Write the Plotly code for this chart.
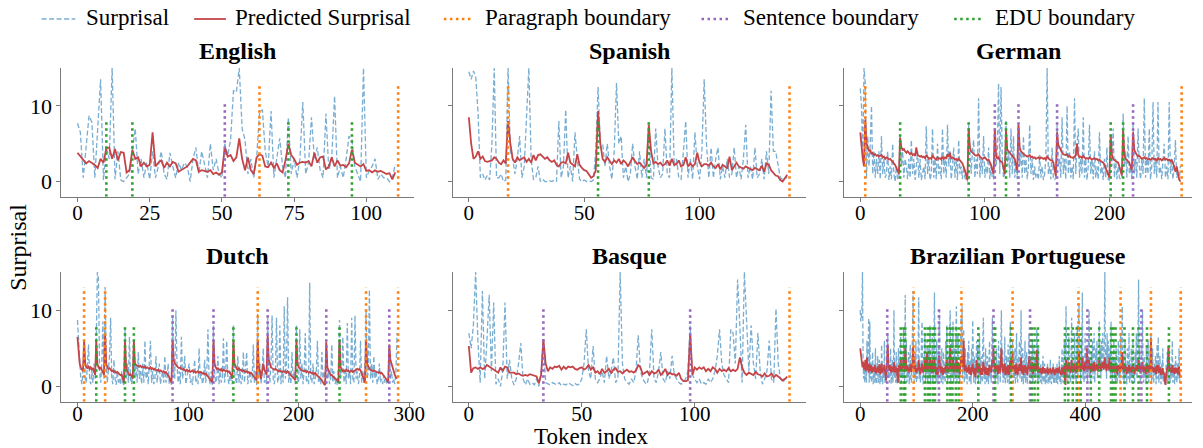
import plotly.graph_objects as go

# ---------------- data ----------------
languages = ["English", "Spanish", "German", "Dutch", "Basque", "Brazilian Portuguese"]
legend_labels = ["Surprisal", "Predicted Surprisal", "Paragraph boundary",
                 "Sentence boundary", "EDU boundary"]

en_surprisal = [
    7.7, 6.5, 0.5, 5.0, 8.7, 7.8, 0.5, 7.0, 13.5, 0.2,
    4.5, 3.0, 15.0, 0.3, 4.0, 0.2, 0.0, 0.5, 1.0, 4.0,
    7.0, 1.0, 3.0, 0.5, 2.5, 0.3, 4.0, 0.5, 2.0, 4.0,
    1.0, 0.3, 3.8, 2.0, 0.5, 2.5, 1.5, 2.5, 2.0, 0.0,
    3.0, 4.5, 1.0, 4.0, 2.0, 0.5, 5.0, 1.5, 3.0, 1.0,
    0.5, 5.0, 3.5, 5.5, 12.0, 11.8, 15.0, 7.0, 5.5, 1.0,
    3.0, 0.5, 3.0, 9.0, 9.5, 4.0, 2.0, 9.3, 0.5, 3.0,
    5.7, 2.0, 0.5, 8.5, 1.0, 3.0, 0.5, 3.0, 10.5, 1.0,
    2.5, 8.5, 3.0, 4.5, 1.5, 0.5, 9.0, 1.5, 3.0, 11.3,
    0.5, 2.0, 0.5, 3.0, 6.0, 5.5, 2.0, 1.0, 0.0, 15.0,
    0.5, 1.5, 2.0, 3.0, 0.3, 1.0, 0.5, 0.5, 0.0, 0.5,
    2.3]
en_predicted = [
    3.8, 3.3, 2.8, 2.4, 2.7, 2.5, 2.2, 1.8, 3.0, 2.5,
    4.4, 4.5, 3.0, 4.3, 2.8, 3.9, 3.8, 1.2, 1.5, 4.2,
    3.0, 3.2, 2.0, 2.5, 2.0, 2.2, 6.5, 2.0, 2.5, 2.8,
    1.8, 2.5, 2.0, 2.6, 2.4, 1.3, 1.5, 1.8, 2.0, 2.5,
    3.0, 2.8, 1.3, 1.5, 1.4, 1.3, 1.5, 1.0, 1.2, 0.9,
    1.2, 4.5, 3.3, 3.5, 2.7, 3.2, 5.7, 3.0, 1.5, 3.2,
    1.5, 1.0, 3.2, 3.6, 3.4, 2.0, 1.9, 2.5, 1.8, 2.4,
    1.5, 1.2, 2.8, 5.0, 3.5, 3.0, 2.2, 2.5, 2.6, 2.5,
    2.7, 2.0, 3.8, 2.5, 3.2, 3.3, 1.6, 2.0, 3.2, 2.0,
    2.8, 2.1, 2.2, 1.9, 2.4, 4.2, 2.5, 2.2, 2.0, 2.3,
    1.4, 1.5, 1.2, 1.5, 1.3, 1.4, 1.2, 1.0, 1.1, 0.3,
    1.2]
en_paragraph = [63, 111]
en_sentence = [51]
en_edu = [10, 19, 73, 95]

es_surprisal = [
    14.5, 13.5, 14.6, 13.8, 9.0, 0.5, 1.0, 0.2, 0.8, 0.2,
    5.0, 15.0, 0.5, 0.5, 1.0, 0.0, 0.2, 15.0, 4.0, 3.0,
    1.0, 3.0, 6.0, 0.5, 2.0, 9.0, 15.0, 3.0, 0.3, 0.5,
    2.0, 0.0, 0.3, 0.0, 0.0, 0.1, 0.0, 0.2, 0.0, 8.0,
    0.5, 2.0, 9.5, 0.5, 2.0, 0.0, 6.5, 3.0, 0.3, 0.0,
    0.2, 0.0, 0.1, 0.0, 0.2, 4.0, 12.5, 5.0, 5.0, 2.0,
    5.0, 2.0, 0.3, 4.0, 13.0, 5.0, 6.0, 0.5, 2.0, 0.0,
    1.0, 5.0, 2.0, 0.3, 4.0, 0.5, 3.0, 0.5, 7.0, 0.5,
    0.3, 7.0, 2.0, 0.5, 1.0, 7.0, 1.0, 0.5, 15.0, 2.0,
    3.0, 0.5, 0.3, 4.0, 8.0, 0.5, 3.0, 0.3, 6.5, 2.0,
    0.3, 4.0, 13.5, 5.0, 0.5, 4.5, 0.5, 3.0, 4.5, 0.3,
    2.0, 0.5, 3.0, 0.5, 1.0, 4.5, 0.5, 2.0, 0.3, 3.0,
    7.5, 0.5, 2.0, 0.3, 4.5, 0.5, 1.0, 3.0, 0.3, 4.0,
    1.0, 12.0, 4.0, 4.0, 2.0, 0.5, 0.3, 0.5, 0.5]
es_predicted = [
    8.5, 5.0, 3.0, 3.3, 4.0, 3.0, 3.3, 2.7, 2.6, 2.7,
    2.8, 3.2, 3.0, 2.5, 2.3, 2.8, 2.4, 8.0, 5.0, 3.0,
    2.5, 3.2, 2.8, 3.0, 3.2, 2.6, 3.0, 2.5, 3.5, 2.8,
    3.5, 3.6, 3.3, 3.0, 3.2, 2.8, 2.6, 2.8, 2.2, 2.0,
    2.5, 2.6, 2.4, 3.8, 2.5, 2.3, 2.0, 3.6, 2.2, 1.8,
    1.5, 1.4, 1.0, 0.5, 0.7, 1.5, 9.3, 5.0, 3.0, 2.6,
    3.2, 2.8, 2.3, 2.8, 2.5, 3.0, 2.3, 2.8, 2.5, 2.0,
    2.7, 3.2, 2.7, 2.3, 2.5, 2.2, 1.8, 2.2, 7.5, 4.0,
    2.4, 2.6, 2.3, 2.5, 2.1, 2.3, 2.8, 2.1, 3.0, 2.2,
    2.3, 2.8, 2.0, 2.2, 3.2, 2.0, 2.4, 2.0, 2.3, 3.8,
    2.5, 2.0, 2.3, 2.3, 2.1, 2.5, 2.0, 1.8, 2.3, 1.6,
    2.2, 2.0, 1.7, 3.3, 1.5, 2.0, 2.5, 2.0, 1.8, 1.7,
    2.0, 1.8, 1.6, 1.5, 1.8, 1.7, 1.5, 2.1, 1.3, 2.4,
    2.2, 1.5, 1.2, 0.8, 0.7, 0.2, 0.0, 0.5, 0.9]
es_paragraph = [17, 139]
es_sentence = []
es_edu = [56, 78]

de_surprisal = [
    12.3, 10.0, 3.0, 15.0, 13.0, 0.5, 6.0, 2.0, 5.0, 10.0,
    1.0, 4.0, 0.5, 3.0, 1.0, 4.0, 0.3, 6.0, 1.0, 3.0,
    0.5, 1.0, 4.0, 0.2, 2.0, 0.3, 5.0, 1.0, 0.0, 2.0,
    0.2, 0.5, 6.0, 2.0, 4.0, 0.5, 3.0, 2.0, 0.3, 3.0,
    0.5, 5.5, 1.0, 3.0, 0.2, 2.0, 4.0, 0.5, 3.0, 0.2,
    1.0, 2.0, 0.3, 7.3, 1.0, 3.0, 0.2, 1.0, 7.0, 0.5,
    3.0, 0.3, 5.0, 1.0, 2.0, 0.3, 7.0, 1.0, 3.0, 0.5,
    7.5, 2.0, 4.0, 0.3, 2.0, 4.5, 0.5, 3.0, 0.2, 5.5,
    1.0, 2.0, 0.3, 2.0, 0.5, 0.2, 0.0, 7.5, 3.0, 1.0,
    4.0, 5.5, 0.5, 3.0, 1.0, 11.0, 0.5, 3.0, 1.0, 6.0,
    0.5, 2.0, 1.0, 4.5, 0.3, 2.0, 0.5, 0.3, 7.0, 2.0,
    4.0, 13.0, 1.0, 12.5, 3.0, 0.5, 1.0, 8.0, 2.0, 4.0,
    0.5, 7.0, 1.0, 6.0, 0.5, 2.0, 0.3, 7.7, 2.0, 4.0,
    0.5, 6.0, 1.0, 3.0, 0.3, 2.0, 7.5, 1.0, 3.0, 0.2,
    2.0, 0.5, 1.0, 0.3, 3.5, 0.5, 2.0, 0.2, 1.0, 3.0,
    15.0, 1.0, 2.0, 0.3, 4.5, 0.5, 0.2, 0.5, 7.5, 2.0,
    3.0, 0.5, 8.5, 1.0, 3.0, 0.3, 10.0, 1.0, 4.0, 0.5,
    2.0, 0.3, 11.0, 1.0, 5.0, 7.0, 0.5, 3.0, 1.0, 8.5,
    0.5, 3.0, 0.2, 2.0, 7.5, 1.0, 3.0, 0.3, 4.0, 0.5,
    2.0, 0.3, 6.5, 1.0, 2.0, 0.2, 3.0, 0.5, 4.5, 0.3,
    0.2, 6.0, 2.0, 7.0, 0.5, 3.0, 0.3, 2.0, 0.5, 0.3,
    0.5, 9.0, 2.0, 4.0, 0.5, 6.0, 1.0, 2.0, 0.3, 7.8,
    1.0, 3.0, 0.5, 7.0, 2.0, 0.3, 3.0, 1.0, 11.0, 0.5,
    3.0, 1.0, 7.0, 0.3, 2.0, 10.5, 1.0, 3.0, 0.5, 10.5,
    1.0, 2.0, 0.3, 3.0, 5.0, 0.5, 2.0, 0.3, 10.5, 1.0,
    3.0, 0.3, 2.0, 5.5, 0.5, 1.0, 0.2, 2.0]
de_predicted = [
    6.5, 4.5, 3.0, 2.0, 8.2, 5.0, 4.5, 4.0, 4.2, 3.6,
    3.8, 3.5, 3.6, 3.4, 3.5, 3.3, 3.4, 3.5, 3.2, 3.3,
    3.0, 3.2, 3.1, 2.9, 3.0, 2.8, 2.7, 2.5, 2.2, 1.8,
    1.4, 1.0, 5.8, 4.5, 4.2, 4.3, 4.0, 3.8, 4.0, 3.7,
    3.6, 3.8, 3.5, 3.6, 3.4, 4.5, 3.5, 3.4, 3.3, 3.4,
    3.2, 3.3, 3.1, 3.5, 3.2, 3.0, 3.1, 3.0, 3.4, 3.1,
    3.0, 2.9, 3.2, 3.0, 3.1, 2.9, 3.3, 3.0, 3.2, 3.1,
    3.5, 3.3, 3.8, 3.0, 3.2, 3.1, 2.9, 3.0, 2.8, 3.0,
    2.7, 2.6, 2.4, 2.0, 1.5, 0.8, 0.2, 7.0, 4.5, 4.0,
    3.8, 3.6, 3.5, 3.4, 3.5, 3.6, 3.3, 3.2, 3.0, 3.1,
    3.2, 3.0, 2.8, 2.9, 2.6, 2.2, 1.5, 1.0, 7.0, 3.5,
    3.0, 3.2, 2.8, 2.6, 2.5, 1.8, 1.0, 6.8, 4.2, 4.0,
    3.8, 3.6, 3.5, 3.3, 3.0, 2.2, 1.5, 7.5, 4.5, 4.0,
    3.8, 3.6, 3.5, 3.4, 3.3, 3.4, 3.5, 3.2, 3.3, 3.1,
    3.2, 3.0, 3.1, 3.2, 3.0, 3.2, 3.1, 3.0, 3.1, 2.9,
    3.3, 3.0, 2.9, 2.8, 2.8, 2.5, 1.5, 0.7, 6.5, 4.8,
    4.5, 4.0, 3.8, 3.6, 3.5, 3.5, 3.6, 3.3, 3.4, 3.2,
    3.2, 3.1, 3.3, 3.5, 5.0, 3.5, 3.2, 3.3, 3.1, 3.4,
    3.2, 3.0, 3.1, 3.0, 3.2, 3.0, 2.9, 3.0, 3.1, 2.9,
    3.0, 2.8, 2.9, 2.7, 2.6, 2.5, 2.2, 1.8, 1.2, 0.8,
    0.5, 6.2, 3.5, 3.0, 2.8, 2.7, 2.6, 2.5, 2.0, 1.5,
    0.8, 6.7, 3.5, 3.0, 2.8, 2.6, 2.5, 2.0, 1.5, 6.5,
    4.2, 3.8, 3.5, 3.3, 3.4, 3.2, 3.0, 3.1, 3.2, 3.0,
    3.1, 2.9, 3.0, 2.9, 3.0, 3.1, 2.9, 3.0, 2.8, 3.1,
    2.9, 3.0, 2.8, 3.0, 3.1, 2.9, 3.0, 2.8, 2.9, 2.7,
    2.8, 2.5, 2.0, 1.3, 2.0, 1.0, 0.3, 0.0]
de_paragraph = [4, 258]
de_sentence = [108, 127, 158, 219]
de_edu = [32, 87, 117, 201, 211]

nl_surprisal = [
    8.7, 6.0, 3.0, 1.0, 0.3, 2.0, 5.0, 1.0, 0.5, 3.0,
    5.5, 1.0, 0.3, 2.0, 0.5, 3.0, 1.0, 6.0, 15.0, 14.0,
    2.0, 0.5, 3.0, 8.5, 1.0, 13.0, 3.0, 0.5, 2.0, 4.0,
    9.0, 1.0, 0.3, 3.5, 1.0, 0.2, 2.0, 0.5, 1.0, 0.2,
    2.0, 0.5, 0.2, 7.7, 1.0, 3.0, 0.5, 6.5, 1.0, 0.3,
    2.0, 6.0, 1.0, 3.0, 0.5, 4.5, 1.0, 2.0, 0.3, 3.0,
    0.5, 6.0, 1.0, 2.0, 0.3, 3.0, 6.0, 0.5, 2.0, 0.3,
    1.0, 4.0, 0.5, 2.0, 3.0, 0.3, 1.0, 2.0, 0.5, 4.0,
    0.5, 1.0, 3.0, 0.3, 1.0, 0.2, 9.3, 2.0, 1.0, 10.0,
    3.0, 0.5, 2.0, 0.3, 6.5, 1.0, 2.0, 4.0, 0.3, 1.0,
    2.0, 3.0, 0.5, 1.0, 0.2, 2.0, 3.5, 0.5, 1.0, 0.3,
    5.0, 1.0, 2.0, 0.3, 1.0, 3.5, 0.5, 2.0, 7.5, 1.0,
    0.3, 2.0, 0.2, 8.0, 2.0, 0.5, 1.0, 4.0, 0.3, 2.0,
    0.5, 1.0, 6.3, 0.5, 2.0, 6.0, 1.0, 0.3, 2.0, 0.5,
    0.3, 8.0, 2.0, 1.0, 0.3, 4.0, 0.5, 2.0, 0.3, 1.0,
    4.5, 0.5, 2.0, 4.5, 0.3, 1.0, 2.0, 0.5, 1.0, 5.5,
    0.5, 2.0, 0.2, 9.5, 1.0, 3.0, 0.3, 2.0, 5.0, 0.5,
    1.0, 0.3, 9.0, 2.0, 0.5, 3.0, 9.3, 1.0, 0.3, 2.0,
    9.0, 0.5, 1.0, 8.0, 0.3, 2.0, 0.5, 10.5, 1.0, 3.0,
    11.7, 0.5, 2.0, 0.3, 4.5, 1.0, 2.0, 0.3, 8.0, 1.0,
    0.5, 7.5, 1.0, 3.0, 0.3, 2.0, 7.0, 0.5, 1.0, 0.3,
    13.6, 1.0, 0.5, 3.0, 0.3, 1.0, 2.0, 6.0, 0.5, 1.0,
    0.3, 4.5, 1.0, 2.0, 0.2, 6.0, 1.0, 2.0, 0.3, 1.0,
    5.5, 0.5, 2.0, 0.3, 1.0, 0.2, 3.0, 8.7, 1.0, 2.0,
    6.5, 0.5, 2.0, 0.3, 8.3, 1.0, 2.0, 0.3, 9.0, 1.0,
    0.5, 9.3, 1.0, 2.0, 0.3, 1.0, 6.0, 0.5, 2.0, 0.3,
    3.0, 10.0, 1.0, 2.0, 12.7, 1.0, 3.0, 0.5, 4.0, 1.0,
    2.0, 0.3, 1.0, 3.0, 0.5, 1.0, 0.3, 1.5, 0.5, 1.0,
    0.3, 0.5, 5.5, 1.0, 2.0, 0.5, 1.0, 0.3, 2.0, 7.0]
nl_predicted = [
    6.5, 4.0, 3.0, 2.5, 2.2, 2.0, 6.0, 3.0, 2.5, 2.4,
    2.6, 2.3, 2.5, 2.2, 2.4, 2.0, 1.5, 6.0, 3.0, 2.5,
    2.3, 2.5, 2.2, 2.0, 1.5, 6.8, 3.0, 2.5, 2.3, 2.4,
    2.2, 2.0, 2.1, 1.9, 2.0, 1.8, 1.9, 1.7, 1.6, 1.5,
    1.5, 1.0, 0.5, 6.0, 2.5, 2.0, 1.8, 1.5, 1.6, 1.2,
    1.0, 6.0, 3.0, 2.8, 2.7, 2.7, 2.6, 2.7, 2.5, 2.6,
    2.5, 2.6, 2.4, 2.5, 2.4, 2.3, 2.5, 2.3, 2.4, 2.2,
    2.3, 2.2, 2.1, 2.2, 2.0, 2.1, 2.0, 1.9, 2.0, 1.8,
    1.9, 1.7, 1.5, 1.2, 0.8, 0.5, 6.0, 3.5, 3.0, 2.8,
    2.6, 2.5, 2.4, 2.5, 2.3, 2.2, 2.3, 2.1, 2.0, 2.2,
    2.0, 2.1, 1.9, 2.0, 2.1, 1.9, 2.0, 1.8, 1.9, 2.0,
    1.8, 1.9, 1.8, 1.7, 1.8, 1.6, 1.7, 1.5, 1.4, 1.2,
    1.0, 0.8, 0.5, 6.0, 3.0, 2.5, 2.3, 2.4, 2.2, 2.1,
    2.3, 2.0, 2.2, 2.1, 2.0, 2.1, 1.9, 2.0, 1.8, 1.5,
    1.0, 6.0, 3.0, 2.5, 2.3, 2.2, 2.4, 2.1, 2.2, 2.0,
    2.1, 2.0, 1.9, 2.0, 1.8, 1.9, 1.7, 1.8, 1.6, 1.4,
    1.2, 1.0, 0.8, 6.0, 2.5, 2.0, 1.0, 2.0, 3.0, 2.2,
    1.8, 1.5, 6.7, 3.5, 3.0, 2.5, 2.4, 2.3, 2.2, 2.3,
    2.2, 2.1, 2.0, 2.1, 2.0, 1.9, 2.0, 1.9, 2.0, 1.8,
    2.0, 1.8, 1.7, 1.5, 1.3, 1.2, 1.0, 0.8, 6.0, 3.0,
    2.5, 2.3, 2.2, 2.1, 2.0, 2.0, 2.1, 1.9, 2.0, 1.8,
    1.9, 1.8, 1.7, 1.8, 1.6, 1.8, 1.5, 1.4, 1.3, 1.2,
    1.0, 0.8, 0.5, 0.3, 0.2, 5.8, 2.5, 2.0, 1.8, 1.5,
    1.5, 1.3, 1.2, 1.1, 1.0, 0.8, 0.5, 6.0, 2.5, 2.2,
    2.0, 2.1, 2.0, 2.2, 2.0, 2.1, 1.9, 2.0, 2.1, 1.9,
    2.0, 2.1, 2.2, 2.3, 2.2, 2.3, 2.1, 1.8, 1.5, 1.0,
    0.5, 6.0, 3.0, 2.5, 2.3, 2.2, 2.1, 2.0, 2.1, 2.0,
    2.0, 1.9, 1.8, 1.9, 1.7, 1.8, 1.6, 1.5, 1.3, 1.0,
    0.8, 0.5, 5.5, 3.5, 3.0, 2.2, 1.8, 1.5, 1.2, 1.0]
nl_paragraph = [6, 25, 163, 261, 290]
nl_sentence = [86, 123, 172, 225, 282]
nl_edu = [17, 43, 51, 141, 198, 237]

eu_surprisal = [
    7.0, 5.0, 8.0, 15.0, 6.0, 0.5, 12.5, 1.0, 6.0, 12.0,
    2.0, 11.0, 0.3, 1.0, 0.0, 2.0, 11.0, 1.0, 3.5, 1.0,
    0.2, 1.0, 3.0, 5.7, 1.0, 0.2, 1.0, 0.3, 0.5, 0.2,
    1.0, 0.0, 2.0, 6.0, 0.5, 0.3, 0.2, 0.5, 0.3, 0.2,
    0.5, 0.1, 0.3, 0.2, 0.5, 0.3, 0.1, 0.4, 0.2, 0.3,
    1.0, 3.0, 7.5, 2.0, 1.0, 5.3, 1.0, 0.5, 1.0, 2.0,
    0.5, 4.0, 1.0, 2.0, 3.8, 0.5, 1.0, 15.0, 3.0, 1.0,
    0.5, 0.3, 1.0, 0.5, 2.0, 6.7, 2.0, 1.0, 0.5, 0.3,
    2.0, 7.5, 1.0, 0.5, 2.0, 4.5, 1.0, 0.5, 2.0, 1.0,
    4.0, 1.5, 1.0, 0.5, 0.3, 0.5, 1.0, 2.0, 8.0, 1.5,
    1.0, 0.5, 1.0, 0.3, 0.5, 0.3, 1.0, 0.5, 1.0, 2.0,
    4.0, 7.5, 3.0, 1.5, 1.0, 0.5, 7.5, 7.0, 3.0, 14.0,
    8.0, 0.5, 15.0, 9.0, 2.0, 8.0, 3.0, 1.0, 7.0, 2.0,
    0.3, 1.0, 2.0, 6.0, 1.0, 0.5, 10.2, 3.0, 1.0, 0.5,
    1.0, 1.0]
eu_predicted = [
    5.3, 1.8, 2.4, 2.5, 2.3, 2.5, 2.3, 2.4, 2.8, 2.6,
    2.5, 2.3, 2.0, 1.8, 2.5, 2.0, 2.6, 2.5, 1.8, 1.8,
    1.8, 1.6, 1.7, 1.5, 1.4, 1.5, 1.4, 1.6, 1.5, 1.5,
    1.3, 0.4, 1.5, 6.2, 3.0, 2.0, 2.5, 2.3, 2.6, 2.5,
    2.7, 2.2, 2.6, 2.3, 2.6, 2.5, 2.6, 2.3, 2.2, 2.4,
    2.5, 2.2, 2.4, 2.8, 2.2, 2.5, 1.8, 2.0, 1.6, 2.3,
    1.8, 2.0, 2.3, 1.7, 2.2, 2.4, 1.9, 2.0, 1.7, 2.0,
    2.2, 1.9, 2.0, 1.8, 2.1, 2.8, 2.5, 1.6, 1.8, 2.0,
    1.5, 2.0, 1.7, 1.8, 2.2, 1.5, 1.8, 2.3, 1.5, 1.8,
    1.6, 1.6, 1.4, 1.8, 1.0, 0.7, 0.7, 0.8, 6.8, 1.5,
    2.5, 2.2, 2.5, 2.3, 2.5, 2.0, 2.3, 2.0, 2.5, 2.3,
    1.8, 2.3, 2.0, 2.2, 2.0, 2.4, 2.0, 2.2, 2.0, 2.3,
    3.8, 2.5, 1.8, 1.5, 1.8, 1.7, 1.5, 1.9, 1.6, 1.5,
    1.3, 1.7, 1.3, 1.4, 1.7, 1.2, 1.5, 1.3, 1.0, 0.8,
    1.0, 1.3]
eu_paragraph = [142]
eu_sentence = [33, 98]
eu_edu = []

pt_surprisal = [
    10.0, 8.5, 9.0, 10.0, 15.0, 4.0, 1.0, 2.5, 0.5, 3.0,
    1.5, 0.5, 6.0, 2.0, 4.0, 9.0, 0.5, 8.5, 1.0, 3.0,
    0.5, 2.0, 4.5, 0.3, 1.5, 3.0, 0.5, 5.0, 1.0, 0.3,
    2.0, 4.0, 0.5, 1.0, 3.5, 0.3, 2.0, 0.5, 5.5, 1.0,
    0.3, 3.0, 1.0, 6.0, 0.5, 2.0, 0.3, 4.0, 6.5, 7.0,
    1.0, 3.0, 0.5, 2.0, 5.0, 0.3, 1.5, 3.5, 0.5, 2.0,
    10.0, 1.0, 3.0, 0.5, 4.5, 1.0, 0.3, 2.5, 5.0, 0.5,
    1.0, 3.0, 6.5, 0.5, 2.0, 4.0, 1.0, 7.5, 3.0, 0.5,
    12.0, 2.0, 6.0, 0.5, 3.0, 1.0, 4.5, 0.3, 2.0, 5.5,
    1.0, 0.5, 3.0, 7.0, 12.5, 2.0, 0.5, 4.0, 1.0, 6.0,
    0.5, 2.5, 1.0, 5.0, 11.7, 1.0, 3.0, 0.5, 2.0, 6.5,
    8.5, 1.0, 0.3, 4.0, 2.0, 7.0, 0.5, 3.0, 1.0, 6.0,
    0.5, 2.5, 5.0, 1.0, 8.0, 0.3, 3.0, 1.5, 7.0, 0.5,
    2.0, 5.5, 12.3, 1.0, 3.0, 0.5, 6.0, 2.0, 0.3, 4.0,
    7.0, 10.0, 1.0, 3.0, 0.5, 5.0, 2.0, 0.3, 4.5, 1.0,
    3.0, 0.5, 6.0, 1.5, 8.0, 0.3, 2.0, 4.0, 1.0, 7.5,
    10.0, 0.5, 3.0, 6.0, 1.0, 8.5, 0.3, 2.5, 5.0, 1.0,
    4.0, 10.5, 0.5, 3.0, 7.0, 1.0, 2.0, 0.3, 6.0, 9.0,
    3.0, 10.5, 1.0, 4.0, 7.5, 0.5, 2.0, 5.0, 1.0, 3.0,
    0.3, 4.5, 2.0, 6.0, 0.5, 1.0, 3.5, 0.3, 5.0, 2.0,
    8.7, 1.0, 0.5, 4.0, 2.0, 0.3, 3.0, 6.0, 1.0, 5.5,
    0.5, 2.0, 7.0, 1.0, 0.3, 4.0, 2.5, 0.5, 6.0, 9.0,
    1.0, 3.0, 0.3, 5.0, 1.5, 0.5, 4.0, 2.0, 0.3, 3.5,
    6.0, 1.0, 2.5, 0.5, 7.5, 9.0, 3.0, 6.5, 1.0, 4.0,
    0.5, 2.0, 5.0, 1.0, 3.0, 0.3, 6.0, 1.5, 4.0, 0.5,
    7.0, 10.0, 2.0, 5.0, 0.5, 3.0, 1.0, 6.5, 0.3, 2.0,
    4.0, 1.0, 0.5, 5.5, 2.0, 0.3, 3.0, 8.5, 1.0, 4.0,
    2.0, 6.0, 0.5, 3.0, 1.0, 5.0, 0.3, 2.5, 7.0, 1.0,
    0.5, 4.0, 2.0, 6.0, 1.0, 3.0, 10.0, 0.5, 2.0, 5.0,
    0.3, 3.5, 1.0, 6.0, 0.5, 2.0, 4.5, 0.3, 1.5, 3.0,
    7.0, 5.0, 0.5, 2.0, 4.0, 1.0, 6.0, 0.3, 3.0, 5.5,
    1.0, 4.0, 0.5, 2.0, 7.5, 3.0, 0.3, 5.0, 1.0, 2.0,
    0.5, 3.0, 1.0, 0.3, 2.5, 4.0, 0.5, 1.0, 3.0, 0.3,
    2.0, 0.5, 1.5, 3.0, 0.3, 1.0, 2.0, 0.5, 3.5, 1.0,
    0.3, 2.0, 1.0, 3.0, 0.5, 1.5, 0.3, 2.5, 1.0, 0.5,
    3.0, 0.3, 2.0, 1.0, 4.0, 0.5, 1.5, 0.3, 2.0, 5.0,
    1.0, 0.5, 3.0, 6.0, 0.3, 2.0, 10.5, 1.0, 4.0, 0.5,
    3.0, 6.5, 1.0, 2.0, 0.5, 5.0, 9.0, 1.0, 3.0, 0.3,
    2.0, 7.0, 1.0, 4.0, 0.5, 3.0, 8.0, 1.0, 5.0, 11.0,
    2.0, 4.0, 0.5, 6.0, 3.0, 12.3, 1.0, 4.0, 0.5, 2.0,
    7.0, 1.0, 3.0, 5.0, 0.5, 2.0, 6.0, 10.0, 1.0, 3.0,
    0.5, 4.5, 2.0, 6.0, 1.0, 3.0, 7.0, 0.5, 2.0, 5.0,
    3.0, 6.0, 1.0, 4.0, 2.0, 8.5, 3.0, 5.0, 1.0, 6.0,
    2.0, 7.0, 4.0, 3.0, 6.0, 15.0, 2.0, 5.0, 1.0, 7.0,
    3.0, 6.0, 2.0, 4.0, 5.0, 1.0, 8.5, 3.0, 0.5, 4.0,
    2.0, 6.0, 1.0, 3.5, 0.5, 5.0, 2.0, 0.3, 3.0, 6.0,
    1.0, 4.0, 0.5, 7.0, 2.0, 3.0, 10.5, 1.0, 4.0, 0.5,
    2.0, 6.0, 1.0, 3.0, 0.3, 5.0, 2.0, 1.0, 7.0, 0.5,
    3.0, 1.0, 5.0, 0.5, 2.0, 6.0, 1.0, 3.0, 0.3, 4.5,
    2.0, 7.0, 1.0, 3.0, 6.0, 14.0, 2.0, 5.0, 0.5, 3.0,
    1.0, 6.0, 10.0, 2.0, 0.5, 4.0, 1.0, 3.0, 0.3, 5.5,
    1.0, 2.0, 6.0, 0.5, 3.0, 1.0, 4.0, 7.0, 0.3, 2.0,
    5.0, 1.0, 0.5, 3.0, 1.5, 4.0, 0.3, 2.0, 5.5, 1.0,
    6.5, 0.5, 2.0, 4.0, 1.0, 0.3, 3.0, 1.0, 5.0, 0.5,
    2.0, 0.3, 1.0, 0.5, 3.0, 1.0, 4.5, 0.3, 2.0, 5.0,
    1.0, 0.5, 3.0, 1.0, 2.0, 6.0, 0.5, 1.5, 3.0, 0.3,
    2.0, 4.0, 1.0, 0.5, 3.0, 1.0, 2.0, 5.0, 0.5, 1.5]
pt_predicted = [
    5.0, 4.2, 3.5, 3.0, 2.5, 3.2, 2.8, 2.2, 2.5, 3.5,
    2.0, 2.8, 3.8, 2.2, 2.5, 1.8, 3.0, 2.4, 2.0, 2.8,
    2.2, 1.8, 2.6, 2.0, 2.5, 1.9, 2.8, 2.2, 1.7, 2.4,
    2.0, 2.6, 1.8, 2.3, 2.9, 2.0, 1.6, 2.5, 3.0, 2.2,
    1.8, 2.4, 2.0, 2.8, 2.3, 1.5, 0.8, 2.0, 3.5, 5.5,
    3.0, 2.5, 2.0, 2.8, 2.2, 1.8, 2.6, 2.0, 2.5, 1.9,
    3.2, 2.3, 1.8, 2.6, 2.0, 2.4, 1.5, 0.5, 2.2, 2.8,
    2.0, 2.6, 3.5, 2.2, 2.0, 2.8, 2.4, 3.8, 2.5, 2.0,
    5.0, 3.0, 2.4, 2.0, 2.7, 2.2, 1.8, 2.5, 2.0, 2.9,
    2.3, 1.9, 2.5, 3.0, 5.2, 3.2, 2.5, 2.0, 2.8, 2.2,
    1.8, 2.4, 2.0, 2.6, 3.5, 2.5, 2.0, 1.6, 2.2, 2.8,
    3.0, 2.2, 1.8, 2.5, 2.0, 3.5, 2.2, 2.0, 2.6, 4.5,
    2.5, 2.0, 3.0, 2.4, 3.8, 2.0, 2.5, 1.8, 3.5, 2.2,
    1.8, 2.6, 3.8, 2.5, 2.2, 1.6, 2.5, 2.0, 1.5, 2.4,
    4.0, 3.8, 2.5, 2.2, 1.8, 2.6, 2.0, 1.5, 2.4, 2.0,
    2.5, 1.8, 2.8, 2.2, 3.5, 1.8, 2.2, 2.5, 2.0, 3.5,
    5.0, 2.8, 2.2, 3.0, 2.0, 3.8, 1.8, 2.5, 3.0, 2.0,
    2.5, 3.8, 1.8, 2.4, 3.2, 2.0, 2.5, 1.6, 2.8, 3.5,
    4.0, 3.5, 2.5, 3.0, 6.0, 2.5, 2.0, 2.8, 2.2, 2.5,
    1.8, 2.4, 2.0, 2.8, 1.6, 2.0, 2.5, 1.5, 2.2, 2.0,
    3.0, 2.2, 1.6, 2.4, 2.0, 1.2, 2.2, 3.5, 2.0, 2.8,
    1.8, 2.2, 3.0, 2.0, 1.5, 2.4, 2.2, 1.5, 2.5, 3.2,
    2.0, 2.4, 1.6, 2.6, 2.0, 1.5, 2.4, 2.2, 1.4, 2.3,
    2.8, 2.0, 2.3, 1.8, 3.0, 3.5, 2.5, 5.0, 2.5, 2.8,
    1.8, 2.2, 2.8, 2.0, 2.5, 1.6, 2.8, 2.0, 2.6, 1.8,
    3.0, 5.0, 2.5, 3.0, 1.8, 2.5, 2.0, 3.0, 1.5, 2.2,
    2.6, 2.0, 1.6, 2.8, 2.2, 1.5, 2.4, 3.5, 2.0, 2.6,
    2.2, 4.5, 2.0, 2.6, 2.0, 2.8, 1.6, 2.2, 3.0, 2.0,
    1.5, 2.5, 2.0, 3.0, 2.0, 2.4, 3.8, 1.8, 2.2, 2.8,
    1.5, 2.4, 2.0, 2.8, 1.8, 2.2, 2.6, 1.5, 2.0, 2.5,
    3.0, 4.0, 2.0, 2.4, 2.8, 2.0, 3.2, 1.6, 2.5, 3.0,
    2.2, 3.0, 2.0, 2.5, 4.8, 2.8, 1.8, 2.6, 2.0, 2.2,
    1.8, 2.4, 2.0, 1.6, 2.2, 2.6, 1.8, 2.0, 2.4, 1.7,
    2.2, 1.8, 2.0, 2.5, 1.6, 2.0, 2.3, 1.8, 2.4, 2.0,
    1.6, 2.2, 1.9, 2.5, 1.8, 2.0, 1.5, 2.3, 2.0, 1.8,
    2.4, 1.7, 2.2, 1.9, 2.6, 1.8, 2.0, 1.5, 2.2, 2.5,
    2.0, 1.6, 2.2, 2.8, 1.0, 0.2, 3.5, 2.5, 2.8, 2.0,
    2.4, 3.2, 2.2, 2.5, 1.8, 2.8, 3.5, 2.0, 2.6, 1.8,
    2.2, 3.0, 2.0, 2.6, 1.8, 2.4, 3.2, 2.0, 2.8, 4.5,
    2.5, 2.8, 2.0, 3.0, 2.4, 3.8, 2.2, 2.8, 2.0, 2.5,
    3.2, 2.2, 2.6, 5.0, 2.8, 2.2, 3.0, 3.5, 2.2, 2.6,
    1.8, 2.8, 2.2, 3.0, 2.0, 2.6, 3.2, 2.0, 2.4, 2.8,
    2.2, 3.0, 2.0, 2.7, 2.3, 3.5, 2.5, 2.8, 2.0, 3.0,
    2.4, 3.2, 2.6, 2.2, 2.8, 3.8, 2.4, 2.8, 2.0, 3.0,
    2.5, 2.8, 2.2, 3.8, 2.6, 2.0, 3.2, 2.5, 1.8, 2.6,
    2.2, 2.8, 1.8, 2.5, 2.0, 2.7, 2.2, 1.6, 2.4, 2.8,
    2.0, 2.6, 1.8, 3.0, 2.4, 2.5, 4.5, 2.2, 2.6, 1.8,
    2.2, 2.8, 2.0, 2.5, 1.6, 2.6, 2.2, 2.0, 2.8, 1.8,
    2.4, 2.0, 2.6, 1.8, 2.2, 2.8, 2.0, 2.4, 1.6, 2.5,
    2.2, 2.8, 2.0, 2.4, 2.6, 3.5, 2.2, 2.8, 1.8, 2.4,
    2.0, 3.0, 3.2, 2.2, 1.8, 2.6, 2.0, 2.4, 1.6, 2.8,
    2.0, 2.2, 2.8, 1.8, 2.4, 2.0, 3.5, 6.3, 2.5, 2.0,
    2.6, 2.0, 1.8, 2.4, 2.0, 2.6, 1.6, 2.2, 2.8, 2.0,
    2.8, 1.8, 2.2, 2.5, 2.0, 1.5, 2.2, 1.8, 2.4, 1.5,
    1.8, 1.2, 0.8, 0.2, 1.5, 2.0, 2.5, 2.2, 5.3, 3.0,
    2.5, 2.0, 2.4, 1.8, 2.2, 2.8, 2.0, 1.8, 2.4, 1.6,
    2.2, 2.5, 1.8, 2.0, 2.4, 1.6, 2.0, 2.6, 1.5, 1.2]
pt_paragraph = [95, 180, 271, 388, 463, 517, 570]
pt_sentence = [48, 140, 237, 302, 404, 500]
pt_edu = [72, 77, 80, 115, 120, 124, 129, 133, 155, 160, 164, 170, 175,
          210, 240, 268, 305, 310, 316, 364, 370, 378, 385, 392, 410, 425,
          446, 450, 454, 470, 485, 495, 510, 549]

x_ticks = [[0, 25, 50, 75, 100], [0, 50, 100], [0, 100, 200],
           [0, 100, 200, 300], [0, 50, 100], [0, 200, 400]]
y_ticks = [0, 10]

# ---------------- style / layout ----------------
W, H = 1203, 448
FONT = "Liberation Serif, Times New Roman, serif"
C_SURP = "rgba(31,119,180,0.6)"
C_PRED = "#c44447"
C_PARA = "#ff7f0e"
C_SENT = "#9467bd"
C_EDU = "#2ca02c"
DASH_SURP = "5px,2.5px"
DASH_DOT = "2.5px,3.5px"

col_px = [(62, 418), (457, 813), (852, 1203)]
row_px = [(68, 196.7), (272, 401.7)]
x_ranges = [[-5.55, 116.55], [-6.95, 145.95], [-12.9, 266.3],
            [-14.5, 304.5], [-7.1, 149.1], [-28.5, 590.0]]
y_range = [-2, 15]
tops = {"para": 12.96, "sent": 10.58, "edu": 8.2}
standoff = [-7, -11]

panels = [
    (en_surprisal, en_predicted, en_paragraph, en_sentence, en_edu),
    (es_surprisal, es_predicted, es_paragraph, es_sentence, es_edu),
    (de_surprisal, de_predicted, de_paragraph, de_sentence, de_edu),
    (nl_surprisal, nl_predicted, nl_paragraph, nl_sentence, nl_edu),
    (eu_surprisal, eu_predicted, eu_paragraph, eu_sentence, eu_edu),
    (pt_surprisal, pt_predicted, pt_paragraph, pt_sentence, pt_edu),
]

fig = go.Figure()
layout = dict(
    width=W, height=H, margin=dict(l=0, r=0, t=0, b=0),
    paper_bgcolor="white", plot_bgcolor="white",
    font=dict(family=FONT, size=21, color="black"),
    showlegend=False,
)
annotations = []
shapes = []


def vline_xy(xs, top):
    xx, yy = [], []
    for b in xs:
        xx += [b, b, None]
        yy += [y_range[0], top, None]
    return xx, yy


for i, (surp, pred, para, sent, edu) in enumerate(panels):
    r, c = divmod(i, 3)
    k = "" if i == 0 else str(i + 1)
    xa, ya = "x" + k, "y" + k
    x0, x1 = col_px[c]
    ytop, ybot = row_px[r]
    layout["xaxis" + k] = dict(
        domain=[x0 / W, x1 / W], range=x_ranges[i], anchor=ya,
        showgrid=False, zeroline=False, showline=True, linecolor="#7a7a7a", linewidth=1.2,
        ticks="outside", ticklen=4, tickcolor="#7a7a7a", tickwidth=1,
        ticklabelstandoff=standoff[r],
        tickvals=x_ticks[i], ticktext=[str(v) for v in x_ticks[i]],
        tickfont=dict(family=FONT, size=21, color="black"), fixedrange=True)
    layout["yaxis" + k] = dict(
        domain=[1 - ybot / H, 1 - ytop / H], range=y_range, anchor=xa,
        showgrid=False, zeroline=False, showline=True, linecolor="#7a7a7a", linewidth=1.2,
        ticks="outside", ticklen=4, tickcolor="#7a7a7a", tickwidth=1,
        tickvals=y_ticks, ticktext=[str(v) for v in y_ticks] if c == 0 else ["", ""],
        tickfont=dict(family=FONT, size=22, color="black"), fixedrange=True)
    fig.add_trace(go.Scatter(
        x=list(range(len(surp))), y=surp, mode="lines", xaxis=xa, yaxis=ya,
        line=dict(color=C_SURP, width=1.3, dash=DASH_SURP), name=legend_labels[0]))
    fig.add_trace(go.Scatter(
        x=list(range(len(pred))), y=pred, mode="lines", xaxis=xa, yaxis=ya,
        line=dict(color=C_PRED, width=1.8), name=legend_labels[1]))
    for vals, key, color, name in [
        (para, "para", C_PARA, legend_labels[2]),
        (sent, "sent", C_SENT, legend_labels[3]),
        (edu, "edu", C_EDU, legend_labels[4]),
    ]:
        xx, yy = vline_xy(vals, tops[key])
        if not xx:
            continue
        fig.add_trace(go.Scatter(
            x=xx, y=yy, mode="lines", xaxis=xa, yaxis=ya,
            line=dict(color=color, width=2.6, dash=DASH_DOT), name=name))
    annotations.append(dict(
        text="<b>" + languages[i] + "</b>", xref="paper", yref="paper",
        x=(x0 + x1) / 2 / W, y=1 - (51 if r == 0 else 256) / H,
        xanchor="center", yanchor="middle",
        showarrow=False, font=dict(family=FONT, size=24, color="black")))

# legend (drawn manually for exact spacing)
leg_y = 1 - 17 / H
leg_items = [
    (42, 76, 85, C_SURP, 1.3, DASH_SURP),
    (196, 228, 235, C_PRED, 1.8, "solid"),
    (448, 478, 487, C_PARA, 2.6, DASH_DOT),
    (708, 738, 748, C_SENT, 2.6, DASH_DOT),
    (963, 993, 1002, C_EDU, 2.6, DASH_DOT),
]
for (sx0, sx1, tx, color, width, dash), label in zip(leg_items, legend_labels):
    shapes.append(dict(type="line", xref="paper", yref="paper",
                       x0=sx0 / W, x1=sx1 / W, y0=1 - 19 / H, y1=1 - 19 / H,
                       line=dict(color=color, width=width, dash=dash)))
    annotations.append(dict(text=label, xref="paper", yref="paper",
                            x=tx / W, y=leg_y, xanchor="left", yanchor="middle",
                            showarrow=False, font=dict(family=FONT, size=23, color="black")))

annotations.append(dict(text="Token index", xref="paper", yref="paper",
                        x=597 / W, y=1 - 436 / H, xanchor="center", yanchor="middle",
                        showarrow=False, font=dict(family=FONT, size=23, color="black")))
annotations.append(dict(text="Surprisal", xref="paper", yref="paper",
                        x=18 / W, y=1 - 247 / H, xanchor="center", yanchor="middle",
                        textangle=-90, showarrow=False,
                        font=dict(family=FONT, size=24, color="black")))
layout["annotations"] = annotations
layout["shapes"] = shapes
fig.update_layout(**layout)
fig.write_html("out.html")
